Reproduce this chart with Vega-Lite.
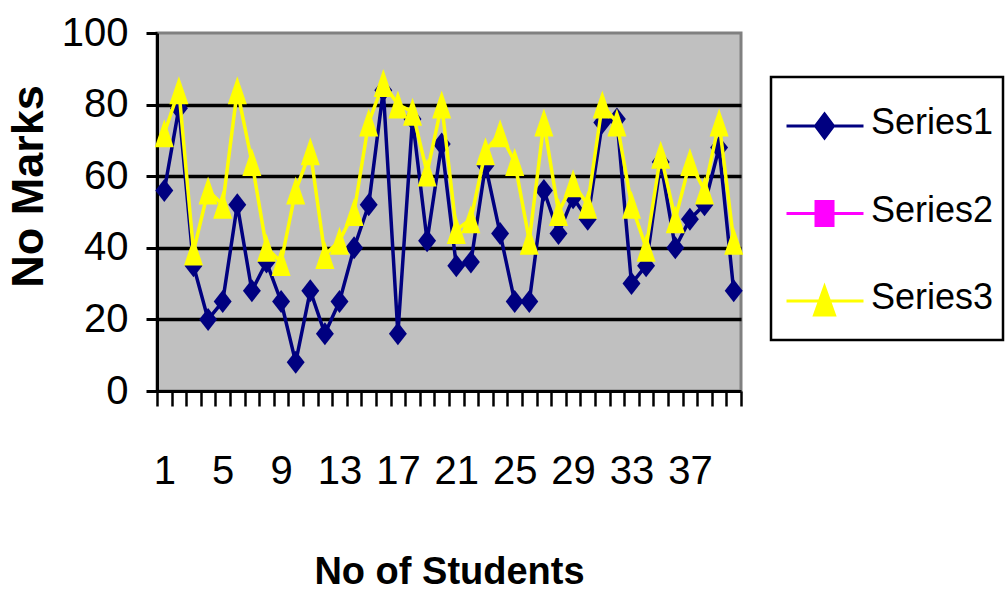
{
  "$schema": "https://vega.github.io/schema/vega-lite/v6.json",
  "width": 584,
  "height": 358,
  "autosize": "none",
  "padding": {"left": 157, "top": 33, "right": 264, "bottom": 200},
  "background": "white",
  "config": {
    "view": {"fill": "#C0C0C0", "stroke": "#808080", "strokeWidth": 3},
    "font": "Liberation Sans Narrow, Arial Narrow, Liberation Sans, Arial, sans-serif",
    "legend": {"rowPadding": 17.5}
  },
  "data": {
    "values": [
      {"student": 1, "series": "Series1", "marks": 56},
      {"student": 2, "series": "Series1", "marks": 79},
      {"student": 3, "series": "Series1", "marks": 35},
      {"student": 4, "series": "Series1", "marks": 20},
      {"student": 5, "series": "Series1", "marks": 25},
      {"student": 6, "series": "Series1", "marks": 52},
      {"student": 7, "series": "Series1", "marks": 28},
      {"student": 8, "series": "Series1", "marks": 36},
      {"student": 9, "series": "Series1", "marks": 25},
      {"student": 10, "series": "Series1", "marks": 8},
      {"student": 11, "series": "Series1", "marks": 28},
      {"student": 12, "series": "Series1", "marks": 16},
      {"student": 13, "series": "Series1", "marks": 25},
      {"student": 14, "series": "Series1", "marks": 40},
      {"student": 15, "series": "Series1", "marks": 52},
      {"student": 16, "series": "Series1", "marks": 84},
      {"student": 17, "series": "Series1", "marks": 16},
      {"student": 18, "series": "Series1", "marks": 76},
      {"student": 19, "series": "Series1", "marks": 42},
      {"student": 20, "series": "Series1", "marks": 69},
      {"student": 21, "series": "Series1", "marks": 35},
      {"student": 22, "series": "Series1", "marks": 36},
      {"student": 23, "series": "Series1", "marks": 63},
      {"student": 24, "series": "Series1", "marks": 44},
      {"student": 25, "series": "Series1", "marks": 25},
      {"student": 26, "series": "Series1", "marks": 25},
      {"student": 27, "series": "Series1", "marks": 56},
      {"student": 28, "series": "Series1", "marks": 44},
      {"student": 29, "series": "Series1", "marks": 54},
      {"student": 30, "series": "Series1", "marks": 48},
      {"student": 31, "series": "Series1", "marks": 75},
      {"student": 32, "series": "Series1", "marks": 76},
      {"student": 33, "series": "Series1", "marks": 30},
      {"student": 34, "series": "Series1", "marks": 35},
      {"student": 35, "series": "Series1", "marks": 64},
      {"student": 36, "series": "Series1", "marks": 40},
      {"student": 37, "series": "Series1", "marks": 48},
      {"student": 38, "series": "Series1", "marks": 52},
      {"student": 39, "series": "Series1", "marks": 68},
      {"student": 40, "series": "Series1", "marks": 28},
      {"student": 1, "series": "Series3", "marks": 72},
      {"student": 2, "series": "Series3", "marks": 84},
      {"student": 3, "series": "Series3", "marks": 39},
      {"student": 4, "series": "Series3", "marks": 56},
      {"student": 5, "series": "Series3", "marks": 52},
      {"student": 6, "series": "Series3", "marks": 84},
      {"student": 7, "series": "Series3", "marks": 64},
      {"student": 8, "series": "Series3", "marks": 40},
      {"student": 9, "series": "Series3", "marks": 36},
      {"student": 10, "series": "Series3", "marks": 56},
      {"student": 11, "series": "Series3", "marks": 67},
      {"student": 12, "series": "Series3", "marks": 38},
      {"student": 13, "series": "Series3", "marks": 42},
      {"student": 14, "series": "Series3", "marks": 50},
      {"student": 15, "series": "Series3", "marks": 75},
      {"student": 16, "series": "Series3", "marks": 86},
      {"student": 17, "series": "Series3", "marks": 80},
      {"student": 18, "series": "Series3", "marks": 78},
      {"student": 19, "series": "Series3", "marks": 61},
      {"student": 20, "series": "Series3", "marks": 80},
      {"student": 21, "series": "Series3", "marks": 45},
      {"student": 22, "series": "Series3", "marks": 48},
      {"student": 23, "series": "Series3", "marks": 67},
      {"student": 24, "series": "Series3", "marks": 72},
      {"student": 25, "series": "Series3", "marks": 64},
      {"student": 26, "series": "Series3", "marks": 42},
      {"student": 27, "series": "Series3", "marks": 75},
      {"student": 28, "series": "Series3", "marks": 50},
      {"student": 29, "series": "Series3", "marks": 58},
      {"student": 30, "series": "Series3", "marks": 52},
      {"student": 31, "series": "Series3", "marks": 80},
      {"student": 32, "series": "Series3", "marks": 75},
      {"student": 33, "series": "Series3", "marks": 52},
      {"student": 34, "series": "Series3", "marks": 40},
      {"student": 35, "series": "Series3", "marks": 66},
      {"student": 36, "series": "Series3", "marks": 48},
      {"student": 37, "series": "Series3", "marks": 64},
      {"student": 38, "series": "Series3", "marks": 56},
      {"student": 39, "series": "Series3", "marks": 75},
      {"student": 40, "series": "Series3", "marks": 42}
    ]
  },
  "encoding": {
    "x": {
      "field": "student",
      "type": "quantitative",
      "title": "No of Students",
      "scale": {"domain": [0.5, 40.5], "nice": false, "zero": false},
      "axis": {
        "values": [0.5, 1.5, 2.5, 3.5, 4.5, 5.5, 6.5, 7.5, 8.5, 9.5, 10.5, 11.5, 12.5, 13.5, 14.5, 15.5, 16.5, 17.5, 18.5, 19.5, 20.5, 21.5, 22.5, 23.5, 24.5, 25.5, 26.5, 27.5, 28.5, 29.5, 30.5, 31.5, 32.5, 33.5, 34.5, 35.5, 36.5, 37.5, 38.5, 39.5, 40.5],
        "labelExpr": "(datum.value - 0.5) % 4 == 0 && datum.value < 40 ? '' + (datum.value + 0.5) : ''",
        "labelOffset": 7.3,
        "labelOverlap": false,
        "labelFlush": false,
        "labelBound": false,
        "labelFontSize": 40,
        "labelColor": "black",
        "labelBaseline": "alphabetic",
        "labelPadding": 77,
        "tickSize": 15,
        "tickWidth": 2.5,
        "tickColor": "black",
        "domainColor": "black",
        "domainWidth": 3,
        "grid": false,
        "titleFontSize": 38,
        "titleFontWeight": "bold",
        "titleColor": "black",
        "titleBaseline": "alphabetic",
        "titleX": 292,
        "titleY": 192
      }
    },
    "y": {
      "field": "marks",
      "type": "quantitative",
      "title": "No Marks",
      "scale": {"domain": [0, 100], "nice": false},
      "axis": {
        "values": [0, 20, 40, 60, 80, 100],
        "labelFontSize": 40,
        "labelColor": "black",
        "labelPadding": 18,
        "tickSize": 11,
        "tickWidth": 3,
        "tickColor": "black",
        "domainColor": "black",
        "domainWidth": 3,
        "grid": true,
        "gridColor": {"condition": {"test": "datum.value == 0 || datum.value == 100", "value": "transparent"}, "value": "black"},
        "gridWidth": 3.5,
        "titleFont": "Liberation Sans, Arial, sans-serif",
        "titleFontSize": 45,
        "titleFontWeight": "bold",
        "titleColor": "black",
        "titleBaseline": "alphabetic",
        "titleX": -115,
        "titleY": 153
      }
    }
  },
  "layer": [
    {
      "transform": [{"filter": "datum.series == 'Series1'"}],
      "mark": {"type": "line", "color": "#000080", "strokeWidth": 3.5}
    },
    {
      "transform": [{"filter": "datum.series == 'Series1'"}],
      "mark": {"type": "point", "shape": "M0,-1L0.78,0L0,1L-0.78,0Z", "size": 529, "filled": true, "color": "#000080", "opacity": 1}
    },
    {
      "transform": [{"filter": "datum.series == 'Series3'"}],
      "mark": {"type": "line", "color": "#FFFF00", "strokeWidth": 3.5}
    },
    {
      "transform": [{"filter": "datum.series == 'Series3'"}],
      "mark": {"type": "point", "shape": "M0,-1L0.68,1L-0.68,1Z", "size": 784, "filled": true, "color": "#FFFF00", "opacity": 1}
    },
    {
      "transform": [{"filter": "false"}],
      "mark": {"type": "point", "filled": true, "strokeWidth": 3, "opacity": 1},
      "encoding": {
        "fill": {
          "field": "series",
          "type": "nominal",
          "scale": {"domain": ["Series1", "Series2", "Series3"], "range": ["#000080", "#FF00FF", "#FFFF00"]},
          "legend": {
            "title": null,
            "orient": "none",
            "legendX": 614,
            "legendY": 44,
            "padding": 9,
            "symbolSize": 4900,
            "clipHeight": 70,
            "symbolStrokeWidth": 3,
            "symbolOpacity": 1,
            "labelFontSize": 36,
            "labelColor": "black",
            "labelOffset": 18,
            "labelLimit": 400,
            "rowPadding": 17.5,
            "fillColor": "white",
            "strokeColor": "black",
            "encode": {
              "legend": {"update": {"strokeWidth": {"value": 2.5}}},
              "labels": {"update": {"dy": {"value": 2}}}
            }
          }
        },
        "stroke": {
          "field": "series",
          "type": "nominal",
          "scale": {"domain": ["Series1", "Series2", "Series3"], "range": ["#000080", "#FF00FF", "#FFFF00"]},
          "legend": {
            "title": null,
            "orient": "none",
            "legendX": 614,
            "legendY": 44,
            "padding": 9,
            "symbolSize": 4900,
            "clipHeight": 70,
            "symbolStrokeWidth": 3,
            "symbolOpacity": 1,
            "labelFontSize": 36,
            "labelColor": "black",
            "labelOffset": 18,
            "labelLimit": 400,
            "rowPadding": 17.5,
            "fillColor": "white",
            "strokeColor": "black",
            "encode": {
              "legend": {"update": {"strokeWidth": {"value": 2.5}}},
              "labels": {"update": {"dy": {"value": 2}}}
            }
          }
        },
        "shape": {
          "field": "series",
          "type": "nominal",
          "scale": {
            "domain": ["Series1", "Series2", "Series3"],
            "range": [
              "M-0.857,0.143H1.343M0.229,-0.2L0.486,0.143L0.229,0.486L-0.028,0.143Z",
              "M-0.857,0.143H1.343M-0.014,-0.2H0.472V0.486H-0.014Z",
              "M-0.857,0.143H1.343M0.229,-0.257L0.515,0.543L-0.057,0.543Z"
            ]
          },
          "legend": {
            "title": null,
            "orient": "none",
            "legendX": 614,
            "legendY": 44,
            "padding": 9,
            "symbolSize": 4900,
            "clipHeight": 70,
            "symbolStrokeWidth": 3,
            "symbolOpacity": 1,
            "labelFontSize": 36,
            "labelColor": "black",
            "labelOffset": 18,
            "labelLimit": 400,
            "rowPadding": 17.5,
            "fillColor": "white",
            "strokeColor": "black",
            "encode": {
              "legend": {"update": {"strokeWidth": {"value": 2.5}}},
              "labels": {"update": {"dy": {"value": 2}}}
            }
          }
        }
      }
    }
  ]
}
